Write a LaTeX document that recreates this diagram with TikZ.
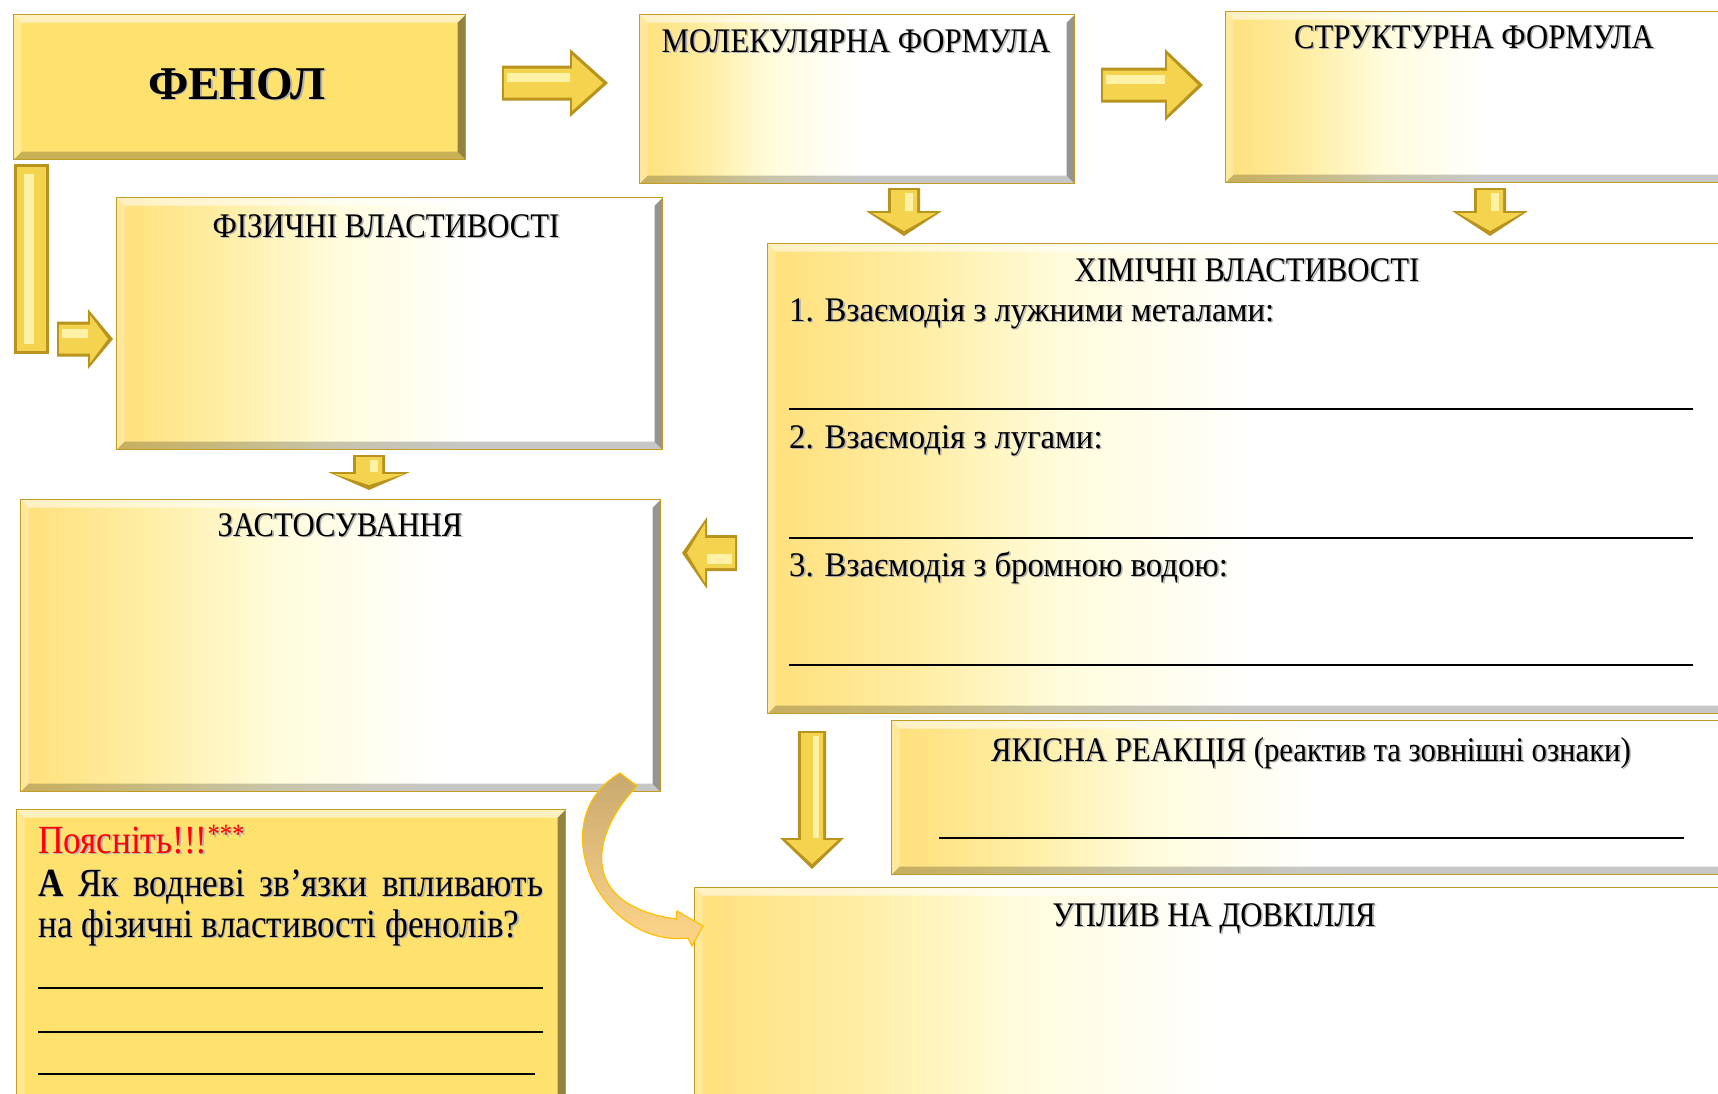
\documentclass[tikz,border=0pt]{standalone}
\usepackage{fontspec}
\setmainfont{Liberation Serif}
\newfontfamily\titleserif[FakeStretch=0.89]{Liberation Serif}
\newfontfamily\itemserif[FakeStretch=0.95]{Liberation Serif}
\newfontfamily\noteserif[FakeStretch=0.88]{Liberation Serif}
\usetikzlibrary{calc}

\definecolor{gA}{HTML}{FFE07A}
\definecolor{gM}{HTML}{FFEEA6}
\definecolor{gB}{HTML}{FFFCDC}
\definecolor{solidgold}{HTML}{FFE26E}
\definecolor{goldline}{HTML}{C29C24}
\definecolor{arrowdark}{HTML}{B8941F}
\definecolor{arrowmid}{HTML}{F4D44E}
\definecolor{arrowlight}{HTML}{FFF1A6}
\definecolor{curvetop}{HTML}{C8A96E}
\definecolor{curvebot}{HTML}{FFD68A}
\definecolor{curveline}{HTML}{FFC000}

% golden fades from the left edge to white
\pgfdeclarehorizontalshading{goldfade}{100bp}{color(0bp)=(gA); color(25bp)=(gA); color(33bp)=(gM); color(40bp)=(gB); color(50bp)=(white); color(100bp)=(white)}
\pgfdeclarehorizontalshading{goldfadelong}{100bp}{color(0bp)=(gA); color(25bp)=(gA); color(35bp)=(gM); color(45bp)=(gB); color(58bp)=(white); color(100bp)=(white)}

% text with a soft grey drop shadow
\newcommand\shtxt[1]{\leavevmode\rlap{\kern1.6pt\raisebox{-1.6pt}{\textcolor{black!30}{#1}}}#1}

\tikzset{
  bevel/.style={path picture={
    \fill[white,opacity=.55] (path picture bounding box.north west) -- (path picture bounding box.north east)
      -- ([xshift=-8pt,yshift=-8pt]path picture bounding box.north east) -- ([xshift=8pt,yshift=-8pt]path picture bounding box.north west) -- cycle;
    \fill[white,opacity=.25] (path picture bounding box.north west) -- (path picture bounding box.south west)
      -- ([xshift=8pt,yshift=8pt]path picture bounding box.south west) -- ([xshift=8pt,yshift=-8pt]path picture bounding box.north west) -- cycle;
    \fill[black,opacity=.22] (path picture bounding box.south west) -- (path picture bounding box.south east)
      -- ([xshift=-8pt,yshift=8pt]path picture bounding box.south east) -- ([xshift=8pt,yshift=8pt]path picture bounding box.south west) -- cycle;
    \fill[black,opacity=.42] (path picture bounding box.north east) -- (path picture bounding box.south east)
      -- ([xshift=-8pt,yshift=8pt]path picture bounding box.south east) -- ([xshift=-8pt,yshift=-8pt]path picture bounding box.north east) -- cycle;
  }},
  panel/.style={rectangle, anchor=north west, inner sep=0pt, draw=goldline, line width=1.3pt,
    shade, shading=goldfade, bevel},
  longpanel/.style={panel, shading=goldfadelong},
  solidpanel/.style={rectangle, anchor=north west, inner sep=0pt, draw=goldline, line width=1.3pt,
    fill=solidgold, bevel},
  barbox/.style={rectangle, anchor=north west, inner sep=0pt, fill=arrowdark, path picture={
    \fill[arrowmid] ([xshift=3pt,yshift=-3pt]path picture bounding box.north west) rectangle ([xshift=-3pt,yshift=3pt]path picture bounding box.south east);
    \fill[arrowlight] ([xshift=10pt,yshift=-10pt]path picture bounding box.north west) rectangle ([xshift=20pt,yshift=10pt]path picture bounding box.south west);
  }},
  ttl/.style={anchor=base, inner sep=0pt, font=\titleserif\fontsize{34.5}{40}\selectfont},
  itm/.style={anchor=base west, inner sep=0pt, font=\itemserif\fontsize{34.5}{40}\selectfont},
  qtext/.style={anchor=base west, inner sep=0pt, font=\noteserif\fontsize{40}{46}\selectfont},
  rule/.style={line width=1.8pt, black},
  % block arrow: length / head width / shaft width / head length
  pics/barrow/.style args={#1/#2/#3/#4}{code={
    \fill[arrowdark] (0,{-#3/2}) -- ({#1-#4},{-#3/2}) -- ({#1-#4},{-#2/2}) -- (#1,0)
      -- ({#1-#4},{#2/2}) -- ({#1-#4},{#3/2}) -- (0,{#3/2}) -- cycle;
    \fill[arrowmid] (2,{-#3/2+3}) -- ({#1-#4+2},{-#3/2+3}) -- ({#1-#4+2},{-#2/2+6}) -- ({#1-5},0)
      -- ({#1-#4+2},{#2/2-6}) -- ({#1-#4+2},{#3/2-3}) -- (2,{#3/2-3}) -- cycle;
    \fill[arrowlight] (5,{-#3/2+7}) -- ({#1-#4},{-#3/2+7}) -- ({#1-#4},-1) -- (5,-1) -- cycle;
  }}
}

\begin{document}
\begin{tikzpicture}[x=1pt,y=-1pt]
\useasboundingbox (0,0) rectangle (1718,1093);
\fill[white] (0,0) rectangle (1718,1093);

% panels
\node[solidpanel, minimum width=452pt, minimum height=145pt] (fenol) at (13,14) {};
\node[panel, minimum width=435pt, minimum height=169pt] (mol) at (639,14) {};
\node[panel, minimum width=520pt, minimum height=171pt] (struct) at (1225,11) {};
\node[longpanel, minimum width=546pt, minimum height=252pt] (fiz) at (116,197) {};
\node[panel, minimum width=980pt, minimum height=470pt] (khim) at (767,243) {};
\node[longpanel, minimum width=640pt, minimum height=292pt] (zast) at (20,499) {};
\node[panel, minimum width=860pt, minimum height=154pt] (yak) at (891,720) {};
\node[solidpanel, minimum width=549pt, minimum height=300pt] (poyasn) at (16,809) {};
\node[panel, minimum width=1060pt, minimum height=230pt] (vplyv) at (694,887) {};

% vertical bar from the phenol panel
\node[barbox, minimum width=35pt, minimum height=190pt] (bar) at (14,164) {};

% block arrows
\pic (a1) at (502,83) {barrow=106/68/35/38};
\pic (a2) at (1101,85) {barrow=102/72/35/38};
\pic (a3) at (57,339) {barrow=56/60/35/25};
\pic[rotate=-90] (a4) at (904,188) {barrow=48/76/32/25};
\pic[rotate=-90] (a5) at (1490,188) {barrow=48/76/32/25};
\pic[rotate=-90] (a6) at (369,455) {barrow=35/82/32/18};
\pic[rotate=180] (a7) at (737,553) {barrow=55/72/36/25};
\pic[rotate=-90] (a8) at (812,731) {barrow=138/64/28/31};

% curved arrow towards the environment panel
\shade[top color=curvetop, bottom color=curvebot, draw=curveline, line width=1.2pt]
  (620,773) -- (637,786) .. controls (590,835) and (578,905) .. (676,919)
  -- (677,911) -- (703,926) -- (692,946) -- (688,938)
  .. controls (600,948) and (540,820) .. (620,773) -- cycle;

% texts
\node[anchor=base, inner sep=0pt, font=\bfseries\fontsize{47}{52}\selectfont] (fenT) at (237,99) {\shtxt{ФЕНОЛ}};
\node[ttl] (molT) at (856,52) {\shtxt{МОЛЕКУЛЯРНА ФОРМУЛА}};
\node[ttl] (strT) at (1474,48) {\shtxt{СТРУКТУРНА ФОРМУЛА}};
\node[ttl] (fizT) at (386,237) {\shtxt{ФІЗИЧНІ ВЛАСТИВОСТІ}};
\node[ttl] (khT) at (1247,281) {\shtxt{ХІМІЧНІ ВЛАСТИВОСТІ}};
\node[itm] (k1) at (789,321) {\shtxt{1. Взаємодія з лужними металами:}};
\node[itm] (k2) at (789,448) {\shtxt{2. Взаємодія з лугами:}};
\node[itm] (k3) at (789,576) {\shtxt{3. Взаємодія з бромною водою:}};
\node[ttl] (zaT) at (340,536) {\shtxt{ЗАСТОСУВАННЯ}};
\node[ttl] (yaT) at (1311,761) {\shtxt{ЯКІСНА РЕАКЦІЯ (реактив та зовнішні ознаки)}};
\node[ttl] (vpT) at (1214,926) {\shtxt{УПЛИВ НА ДОВКІЛЛЯ}};

\node[qtext, text=red] (poT) at (38,853) {\shtxt{Поясніть!!!\textsuperscript{***}}};
\node[qtext] (q1) at (38,896) {\shtxt{\makebox[505pt][s]{\textbf{А} Як водневі зв’язки впливають}}};
\node[qtext] (q2) at (38,937) {\shtxt{на фізичні властивості фенолів?}};

% answer rules
\draw[rule] (789,409) -- (1693,409);
\draw[rule] (789,538) -- (1693,538);
\draw[rule] (789,665) -- (1693,665);
\draw[rule] (939,838) -- (1684,838);
\draw[rule] (38,988) -- (543,988);
\draw[rule] (38,1032) -- (543,1032);
\draw[rule] (38,1074) -- (535,1074);
\end{tikzpicture}
\end{document}
